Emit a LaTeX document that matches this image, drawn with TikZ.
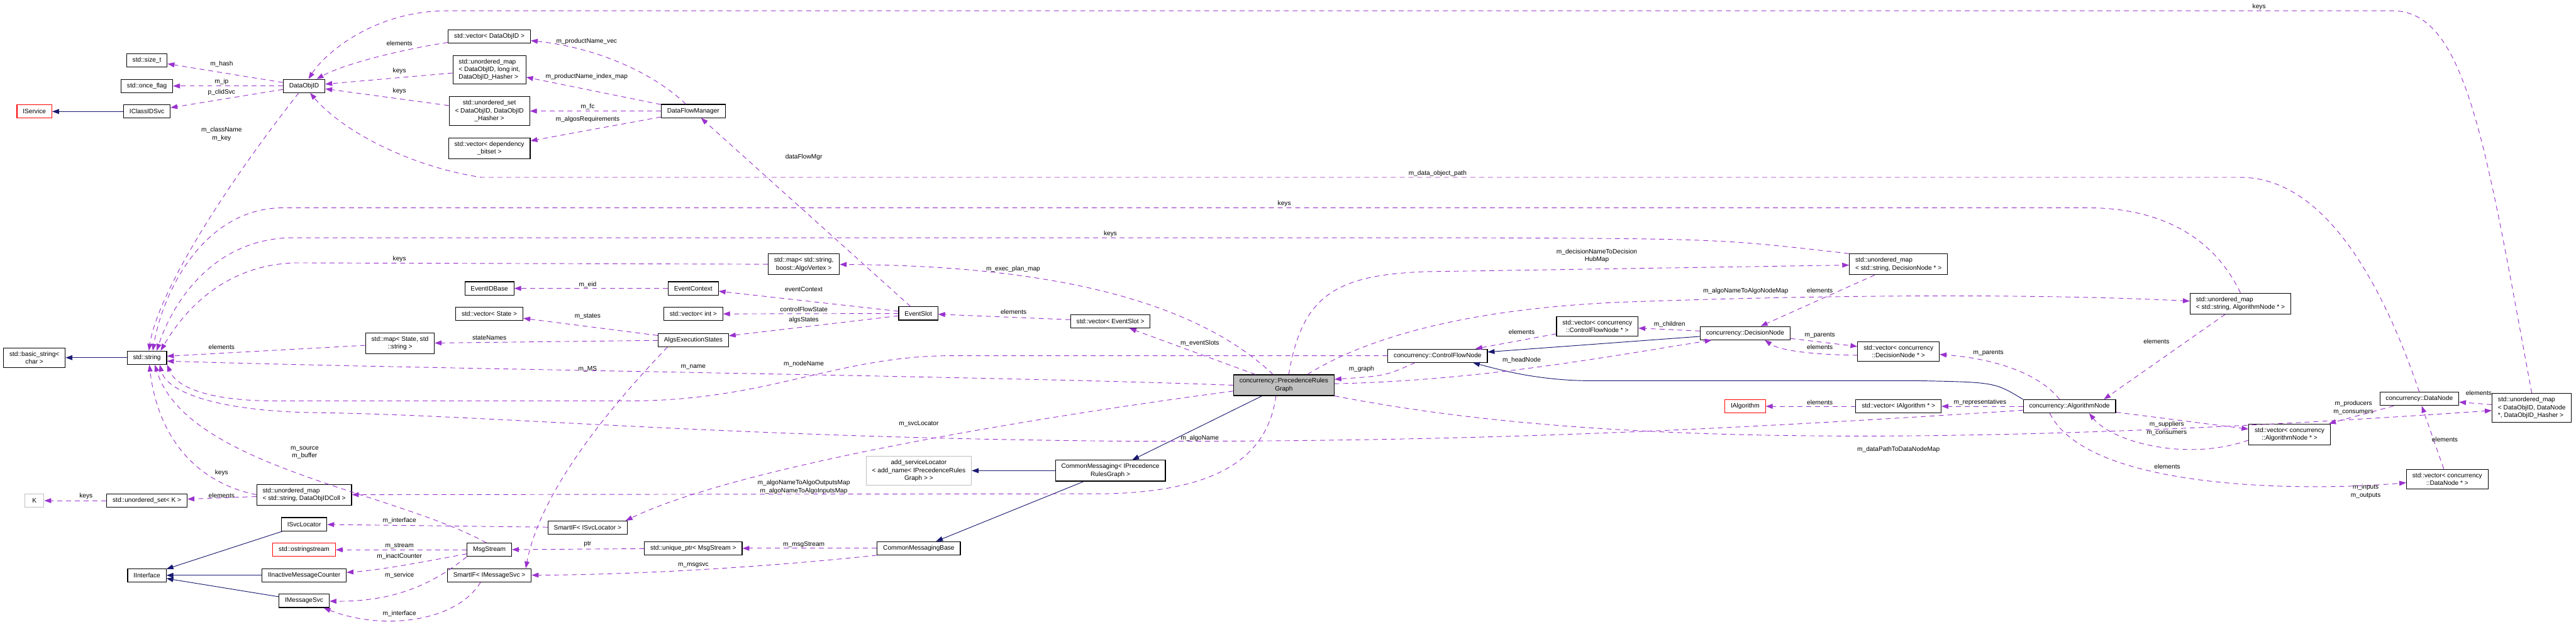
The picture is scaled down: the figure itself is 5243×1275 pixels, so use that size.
\documentclass[tikz,border=0pt]{standalone}
\usepackage{fontspec}
\setmainfont{Liberation Sans}
\usepackage{xcolor}
\definecolor{UseEdge}{HTML}{9A32CD}
\definecolor{InhEdge}{HTML}{191970}
\definecolor{GreyBox}{HTML}{BFBFBF}
\usepackage{tikz}
\usetikzlibrary{arrows.meta, positioning}
\tikzstyle{cls} = [rectangle, draw=black, fill=white, line width=0.7pt, inner xsep=6pt, inner ysep=3.6pt, minimum height=13.5pt, align=center, font=\fontsize{6.5}{7.9}\selectfont]
\tikzstyle{ext} = [cls, draw=red]
\tikzstyle{tmpl} = [cls, draw=GreyBox]
\tikzstyle{self} = [cls, fill=GreyBox]
\tikzstyle{use} = [draw=UseEdge, line width=0.6pt, dash pattern=on 5pt off 4pt, -{Triangle[length=7pt,width=5pt]}]
\tikzstyle{inh} = [draw=InhEdge, line width=0.6pt, -{Triangle[length=7pt,width=5pt]}]
\tikzstyle{lbl} = [font=\fontsize{6.5}{7.9}\selectfont, align=center, inner sep=1pt]

\begin{document}
\begin{tikzpicture}[x=0.5pt, y=-0.5pt]
        \useasboundingbox (0,0) rectangle (5243,1275);

        % left columns
        \node [ext] (iservice) at (70,227) {IService};
        \node [cls] (iclassid) at (299,227) {IClassIDSvc};
        \node [cls] (sizet) at (299,123) {std::size\_t};
        \node [cls] (onceflag) at (299,175) {std::once\_flag};
        \node [cls] (dataobjid) at (619,175) {DataObjID};
        \node [cls] (basicstr) at (70,728) {std::basic\_string<\\char >};
        \node [cls] (stdstr) at (299,728) {std::string};
        \node [tmpl, minimum width=19.5pt] (kk) at (70,1019) {K};
        \node [cls] (usetk) at (299,1019) {std::unordered\_set< K >};
        \node [cls] (iiface) at (299,1171) {IInterface};
        \node [cls, align=left] (umapcoll) at (619,1007) {std::unordered\_map\\< std::string, DataObjIDColl >};
        \node [cls] (isvcloc) at (619,1067) {ISvcLocator};
        \node [ext] (ostr) at (619,1119) {std::ostringstream};
        \node [cls] (iinact) at (619,1171) {IInactiveMessageCounter};
        \node [cls] (imsgsvc) at (619,1223) {IMessageSvc};
        \node [cls] (mapstate) at (814,699) {std::map< State, std\\::string >};

        \node [cls] (vecdoid) at (996,74) {std::vector< DataObjID >};
        \node [cls, align=left] (umapdoid) at (996,142) {std::unordered\_map\\< DataObjID, long int,\\DataObjID\_Hasher >};
        \node [cls] (usetdoid) at (996,226) {std::unordered\_set\\< DataObjID, DataObjID\\\_Hasher >};
        \node [cls] (vecbits) at (996,302) {std::vector< dependency\\\_bitset >};
        \node [cls] (eidbase) at (996,587) {EventIDBase};
        \node [cls] (vecstate) at (996,639) {std::vector< State >};
        \node [cls] (msgstream) at (996,1119) {MsgStream};
        \node [cls] (smartmsg) at (996,1171) {SmartIF< IMessageSvc >};
        \node [cls] (smartloc) at (1196,1074) {SmartIF< ISvcLocator >};
        \node [cls] (dfm) at (1411,226) {DataFlowManager};
        \node [cls] (evctx) at (1411,587) {EventContext};
        \node [cls] (vecint) at (1411,639) {std::vector< int >};
        \node [cls] (algstates) at (1411,692) {AlgsExecutionStates};
        \node [cls] (uptr) at (1411,1116) {std::unique\_ptr< MsgStream >};
        \node [cls] (mapvertex) at (1636,538) {std::map< std::string,\\boost::AlgoVertex >};
        \node [cls] (evslot) at (1869,638) {EventSlot};
        \node [tmpl] (addsvc) at (1870,958) {add\_serviceLocator\\< add\_name< IPrecedenceRules\\Graph > >};
        \node [cls] (cmbase) at (1870,1116) {CommonMessagingBase};
        \node [cls] (vecslot) at (2260,654) {std::vector< EventSlot >};
        \node [cls] (cmsg) at (2260,958) {CommonMessaging< IPrecedence\\RulesGraph >};
        \node [self] (prg) at (2613,784) {concurrency::PrecedenceRules\\Graph};

        % control flow side
        \node [cls] (cfnode) at (2926,724) {concurrency::ControlFlowNode};
        \node [cls] (veccfn) at (3251,664) {std::vector< concurrency\\::ControlFlowNode * >};
        \node [cls] (decnode) at (3552,678) {concurrency::DecisionNode};
        \node [ext] (ialg) at (3552,827) {IAlgorithm};
        \node [cls, align=left] (umapdec) at (3864,538) {std::unordered\_map\\< std::string, DecisionNode * >};
        \node [cls] (vecdec) at (3864,715) {std::vector< concurrency\\::DecisionNode * >};
        \node [cls] (vecialg) at (3864,827) {std::vector< IAlgorithm * >};
        \node [cls] (algnode) at (4212,827) {concurrency::AlgorithmNode};
        \node [cls, align=left] (umapalg) at (4560,618) {std::unordered\_map\\< std::string, AlgorithmNode * >};
        \node [cls] (vecalgn) at (4660,884) {std::vector< concurrency\\::AlgorithmNode * >};
        \node [cls] (datanode) at (4924,812) {concurrency::DataNode};
        \node [cls, align=left] (umapdn) at (5153,830) {std::unordered\_map\\< DataObjID, DataNode\\ *, DataObjID\_Hasher >};
        \node [cls] (vecdn) at (4981,975) {std::vector< concurrency\\::DataNode * >};

        % Inheritance
        \draw [inh] (iclassid) -- (iservice);
        \draw [inh] (stdstr) -- (basicstr);
        \draw [inh] (isvcloc) -- (iiface);
        \draw [inh] (iinact) -- (iiface);
        \draw [inh] (imsgsvc) -- (iiface);
        \draw [inh] (cmsg) -- (addsvc);
        \draw [inh] (cmsg) -- (cmbase);
        \draw [inh] (prg) -- (cmsg);
        \draw [inh] (decnode) -- (cfnode);
        \draw [inh] (algnode.north west) .. controls (4060,778) .. (3906,775) -- (3241,775) .. controls (3130,775) and (3050,752) .. ([xshift=-15pt]cfnode.south east);

        % DataObjID and data flow
        \draw [use] (dataobjid) -- (sizet) node[lbl] at (451,130) {m\_hash};
        \draw [use] (dataobjid) -- (onceflag) node[lbl] at (451,166) {m\_ip};
        \draw [use] (dataobjid) -- (iclassid) node[lbl] at (451,188) {p\_clidSvc};
        \draw [use] (dataobjid) .. controls (450,390) and (320,600) .. ([xshift=2pt]stdstr.north) node[lbl] at (451,273) {m\_className\\m\_key};
        \draw [use] (vecdoid) .. controls (820,100) and (700,130) .. (dataobjid) node[lbl] at (813,88) {elements};
        \draw [use] (umapdoid) -- (dataobjid) node[lbl] at (813,144) {keys};
        \draw [use] (usetdoid) -- (dataobjid) node[lbl] at (813,185) {keys};
        \draw [use] (dfm) .. controls (1320,140) and (1200,95) .. (vecdoid) node[lbl] at (1194,84) {m\_productName\_vec};
        \draw [use] (dfm) -- (umapdoid) node[lbl] at (1194,156) {m\_productName\_index\_map};
        \draw [use] (dfm) -- (usetdoid) node[lbl] at (1196,217) {m\_fc};
        \draw [use] (dfm) -- (vecbits) node[lbl] at (1196,243) {m\_algosRequirements};
        \draw [use] (evslot) -- (dfm) node[lbl] at (1636,320) {dataFlowMgr};
        \draw [use] (umapdn.north) .. controls (5060,300) and (5020,22) .. (4870,22) -- (910,22) .. controls (760,22) and (660,110) .. (dataobjid) node[lbl] at (4598,14) {keys};
        \draw [use] (datanode.north) .. controls (4840,550) and (4720,361) .. (4560,361) -- (980,361) .. controls (840,340) and (700,270) .. (dataobjid) node[lbl] at (2926,353) {m\_data\_object\_path};

        % keys into std::string
        \draw [use] (umapalg.north) .. controls (4500,470) and (4380,423) .. (4250,423) -- (570,423) .. controls (410,428) and (330,600) .. ([xshift=6pt]stdstr.north) node[lbl] at (2614,414) {keys};
        \draw [use] (umapdec.north west) .. controls (3500,486) .. (3000,484) -- (590,484) .. controls (430,488) and (350,620) .. ([xshift=10pt]stdstr.north) node[lbl] at (2260,476) {keys};
        \draw [use] (mapvertex) -- (600,535) .. controls (450,540) and (370,640) .. ([xshift=14pt]stdstr.north) node[lbl] at (813,527) {keys};
        \draw [use] (mapstate) -- ([yshift=1.5pt]stdstr.east) node[lbl] at (451,707) {elements};

        % event slots
        \draw [use] (evctx) -- (eidbase) node[lbl] at (1196,579) {m\_eid};
        \draw [use] (evslot) -- (evctx) node[lbl] at (1636,589) {eventContext};
        \draw [use] (evslot) -- (vecint) node[lbl] at (1636,629) {controlFlowState};
        \draw [use] (evslot) -- (algstates) node[lbl] at (1636,651) {algsStates};
        \draw [use] (algstates) -- (vecstate) node[lbl] at (1196,644) {m\_states};
        \draw [use] (algstates) -- (mapstate) node[lbl] at (996,687) {stateNames};
        \draw [use] ([xshift=10pt]algstates.south west) .. controls (1240,830) and (1100,1000) .. ([xshift=-6pt]smartmsg.north east) node[lbl] at (1196,751) {m\_MS};
        \draw [use] (vecslot) -- (evslot) node[lbl] at (2063,635) {elements};

        % PrecedenceRulesGraph members
        \draw [use] ([xshift=-29pt]prg.north) -- (vecslot) node[lbl] at (2442,699) {m\_eventSlots};
        \draw [use] ([xshift=-11pt]prg.north) .. controls (2420,600) and (2100,540) .. (mapvertex) node[lbl] at (2062,548) {m\_exec\_plan\_map};
        \draw [use] ([xshift=5pt]prg.north) .. controls (2650,600) and (2720,560) .. (2900,553) -- (umapdec) node[lbl] at (3250,521) {m\_decisionNameToDecision\\HubMap};
        \draw [use] ([xshift=24pt]prg.north) .. controls (2760,700) and (2950,630) .. (3300,615) .. controls (3800,597) and (4200,600) .. (umapalg) node[lbl] at (3553,593) {m\_algoNameToAlgoNodeMap};
        \draw [use] ([yshift=1.5pt]prg.east) .. controls (3000,775) and (3250,730) .. ([xshift=12pt]decnode.south west) node[lbl] at (3097,733) {m\_headNode};
        \draw [use] ([xshift=28pt]cfnode.south west) .. controls (2820,765) .. ([yshift=6pt]prg.east) node[lbl] at (2771,751) {m\_graph};
        \draw [use] (prg.west) .. controls (2000,765) and (900,752) .. ([yshift=-3.5pt]stdstr.east) node[lbl] at (1411,747) {m\_name};
        \draw [use] ([yshift=-6pt]prg.west) .. controls (2100,850) and (1500,950) .. ([xshift=-2pt]smartloc.north east) node[lbl] at (1870,863) {m\_svcLocator};
        \draw [use] ([xshift=-8pt]prg.south) .. controls (2580,930) and (2480,1000) .. (2250,1005) -- (umapcoll) node[lbl] at (1636,991) {m\_algoNameToAlgoOutputsMap\\m\_algoNameToAlgoInputsMap};
        \draw [use] (prg.south east) .. controls (3100,880) and (3700,930) .. (umapdn) node[lbl] at (3864,915) {m\_dataPathToDataNodeMap};

        % control flow nodes
        \draw [use] (cfnode.west) -- (1930,724) .. controls (1700,726) and (1560,816) .. (1280,816) -- (560,816) .. controls (430,816) and (360,790) .. (stdstr.south east) node[lbl] at (1636,741) {m\_nodeName};
        \draw [use] (veccfn) -- (cfnode) node[lbl] at (3097,676) {elements};
        \draw [use] (decnode) -- (veccfn) node[lbl] at (3398,660) {m\_children};
        \draw [use] (decnode) -- (vecdec) node[lbl] at (3704,683) {m\_parents};
        \draw [use] ([yshift=-4pt]vecdec.west) .. controls (3680,722) and (3620,712) .. ([xshift=20pt]decnode.south) node[lbl] at (3704,707) {elements};
        \draw [use] (umapdec) -- (decnode) node[lbl] at (3704,591) {elements};
        \draw [use] (umapalg) -- ([xshift=35pt]algnode.north) node[lbl] at (4389,695) {elements};
        \draw [use] ([xshift=-10pt]algnode.north) .. controls (4150,760) and (4060,730) .. (vecdec) node[lbl] at (4047,719) {m\_parents};
        \draw [use] (algnode) -- (vecialg) node[lbl] at (4030,819) {m\_representatives};
        \draw [use] (vecialg) -- (ialg) node[lbl] at (3704,819) {elements};
        \draw [use] ([yshift=-4pt]algnode.west) .. controls (3500,875) and (3000,900) .. (2300,898) .. controls (1500,892) and (1000,845) .. (650,840) .. controls (450,838) and (340,800) .. ([xshift=13pt]stdstr.south) node[lbl] at (2442,892) {m\_algoName};
        \draw [use] (algnode) -- (vecalgn) node[lbl] at (4410,872) {m\_suppliers\\m\_consumers};
        \draw [use] (datanode) -- (vecalgn) node[lbl] at (4790,830) {m\_producers\\m\_consumers};
        \draw [use] ([yshift=-6pt]vecalgn.west) .. controls (4450,940) and (4300,900) .. ([xshift=20pt]algnode.south) node[lbl] at (4411,950) {elements};
        \draw [use] ([xshift=-20pt]algnode.south) .. controls (4250,1000) and (4700,1000) .. (vecdn) node[lbl] at (4815,1000) {m\_inputs\\m\_outputs};
        \draw [use] (vecdn) -- (datanode) node[lbl] at (4976,895) {elements};
        \draw [use] (umapdn) -- (datanode) node[lbl] at (5045,800) {elements};

        % messaging
        \draw [use] (umapcoll.west) .. controls (390,980) and (320,880) .. ([xshift=2.5pt]stdstr.south) node[lbl] at (451,963) {keys};
        \draw [use] (umapcoll) -- (usetk) node[lbl] at (451,1009) {elements};
        \draw [use] (usetk) -- (kk) node[lbl] at (175,1010) {keys};
        \draw [use] (smartloc) -- (isvcloc) node[lbl] at (813,1060) {m\_interface};
        \draw [use] (msgstream) -- (ostr) node[lbl] at (813,1111) {m\_stream};
        \draw [use] (msgstream) .. controls (880,1140) and (780,1160) .. (iinact) node[lbl] at (813,1132) {m\_inactCounter};
        \draw [use] (msgstream.south west) .. controls (880,1190) and (800,1225) .. (imsgsvc) node[lbl] at (813,1171) {m\_service};
        \draw [use] ([xshift=-9pt]smartmsg.south) .. controls (930,1265) and (780,1285) .. ([xshift=-6pt]imsgsvc.south east) node[lbl] at (813,1249) {m\_interface};
        \draw [use] ([xshift=-3pt]msgstream.north) .. controls (800,1000) and (380,950) .. ([xshift=8pt]stdstr.south) node[lbl] at (620,921) {m\_source\\m\_buffer};
        \draw [use] (uptr) -- (msgstream) node[lbl] at (1196,1108) {ptr};
        \draw [use] (cmbase) -- (uptr) node[lbl] at (1636,1108) {m\_msgStream};
        \draw [use] (cmbase.south west) .. controls (1500,1160) and (1250,1170) .. (smartmsg) node[lbl] at (1411,1151) {m\_msgsvc};
    \end{tikzpicture}
\end{document}
